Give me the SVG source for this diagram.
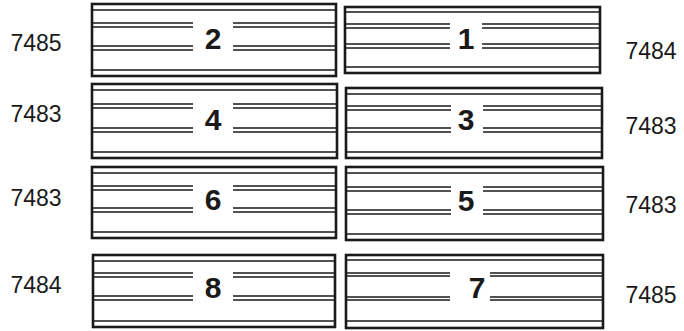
<svg xmlns="http://www.w3.org/2000/svg" width="684" height="331" viewBox="0 0 684 331">
<style>
.o{fill:none;stroke:#1a1a1a;stroke-width:2.6}
.l{stroke:#1a1a1a;stroke-width:1.6;fill:none}
.n{font-family:"Liberation Sans",Arial,sans-serif;font-weight:bold;font-size:30px;fill:#1a1a1a;text-anchor:middle}
.t{font-family:"Liberation Sans",Arial,sans-serif;font-size:23px;fill:#1a1a1a;text-anchor:middle}
</style>
<rect width="684" height="331" fill="#fff"/>
<g id="box2">
<rect class="o" x="92" y="4" width="244" height="72"/>
<path class="l" d="M92 10H336M92 23H193M233 23H336M92 27H193M233 27H336M92 46H193M233 46H336M92 50H193M233 50H336M92 70H336"/>
<text class="n" x="213" y="49">2</text>
</g>
<g id="box1">
<rect class="o" x="345" y="7" width="255" height="66"/>
<path class="l" d="M345 12H600M345 24H450M482 24H600M345 28H450M482 28H600M345 44H450M482 44H600M345 48H450M482 48H600M345 67H600"/>
<text class="n" x="466" y="49">1</text>
</g>
<g id="box4">
<rect class="o" x="92" y="84" width="245" height="74"/>
<path class="l" d="M92 90H337M92 104H193M233 104H337M92 108H193M233 108H337M92 128H193M233 128H337M92 132H193M233 132H337M92 152H337"/>
<text class="n" x="213" y="130">4</text>
</g>
<g id="box3">
<rect class="o" x="346" y="88" width="256" height="70"/>
<path class="l" d="M346 94H602M346 106H451M483 106H602M346 110H451M483 110H602M346 128H451M483 128H602M346 132H451M483 132H602M346 152H602"/>
<text class="n" x="466" y="130">3</text>
</g>
<g id="box6">
<rect class="o" x="92" y="167" width="244" height="71"/>
<path class="l" d="M92 173H336M92 186H193M233 186H336M92 190H193M233 190H336M92 208H193M233 208H336M92 212H193M233 212H336M92 232H336"/>
<text class="n" x="213" y="210">6</text>
</g>
<g id="box5">
<rect class="o" x="346" y="167" width="257" height="73"/>
<path class="l" d="M346 173H603M346 187H451M483 187H603M346 191H451M483 191H603M346 210H451M483 210H603M346 214H451M483 214H603M346 234H603"/>
<text class="n" x="466" y="211">5</text>
</g>
<g id="box8">
<rect class="o" x="93" y="255" width="242" height="72"/>
<path class="l" d="M93 261H335M93 273H193M233 273H335M93 277H193M233 277H335M93 296H193M233 296H335M93 300H193M233 300H335M93 321H335"/>
<text class="n" x="213" y="298">8</text>
</g>
<g id="box7">
<rect class="o" x="346" y="255" width="257" height="73"/>
<path class="l" d="M346 260H603M346 273H450M490 273H603M346 276H450M490 276H603M346 297H450M490 297H603M346 300H450M490 300H603M346 321H603"/>
<text class="n" x="477" y="298">7</text>
</g>
<g id="labels">
<text class="t" x="36" y="51">7485</text>
<text class="t" x="651" y="59">7484</text>
<text class="t" x="36" y="122">7483</text>
<text class="t" x="651" y="134">7483</text>
<text class="t" x="36" y="206">7483</text>
<text class="t" x="651" y="213">7483</text>
<text class="t" x="36" y="293">7484</text>
<text class="t" x="651" y="303">7485</text>
</g>
<g id="connectors"/>
</svg>
